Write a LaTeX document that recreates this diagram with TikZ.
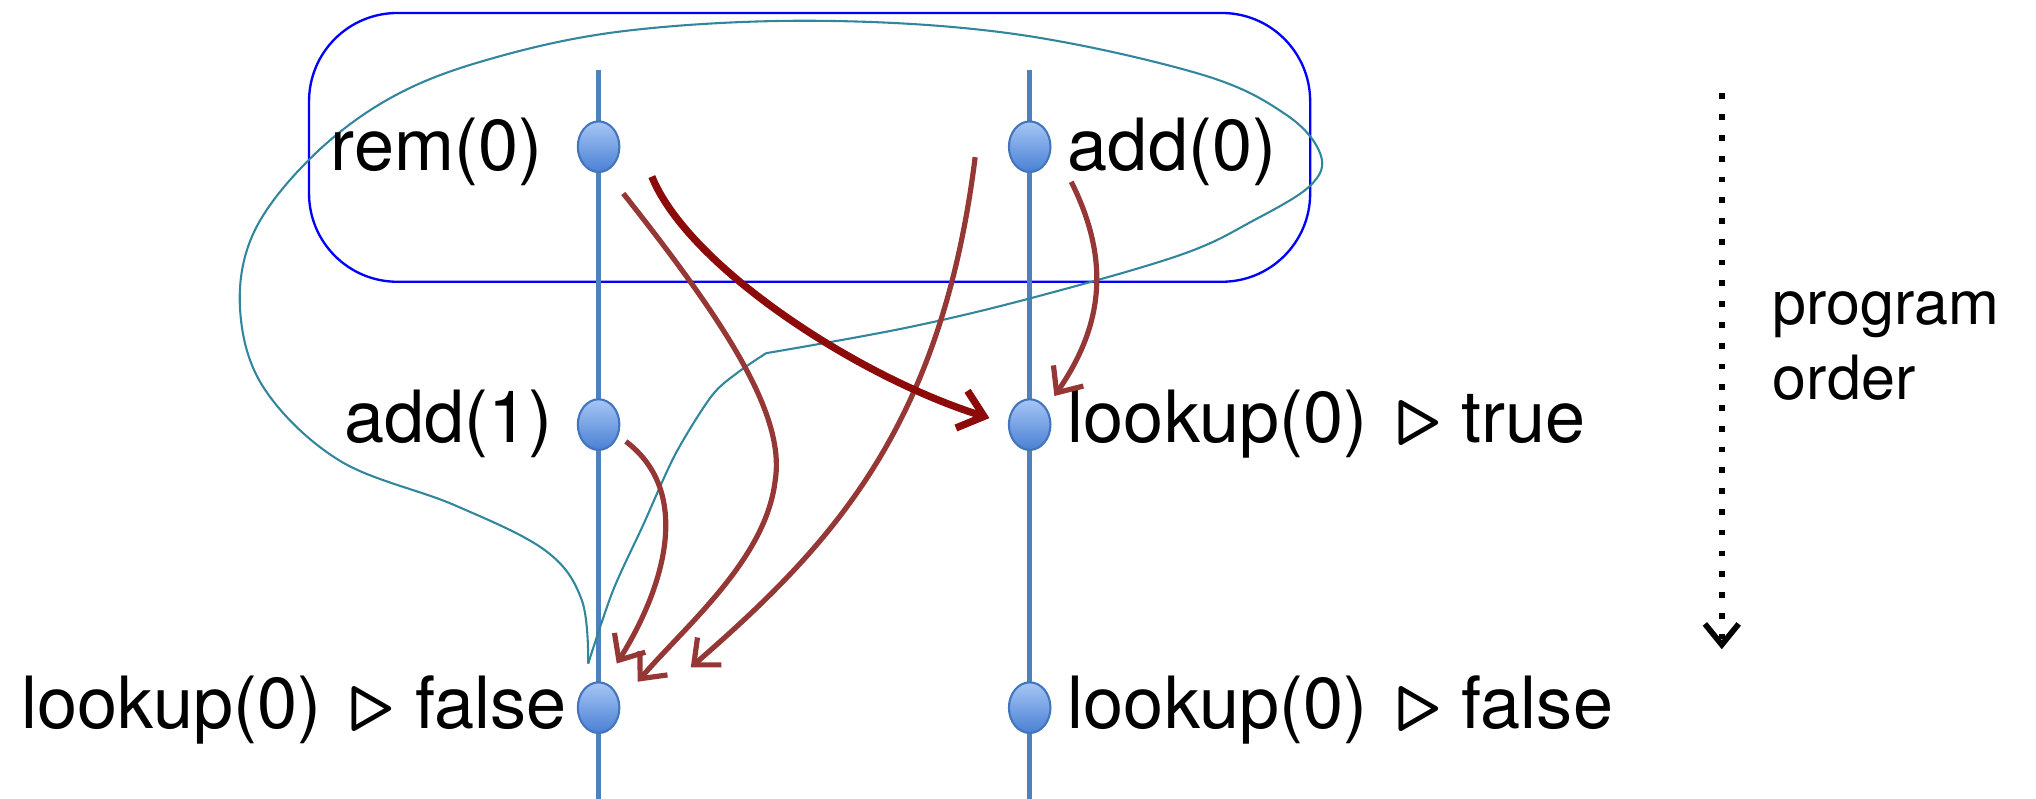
\RequirePackage{fix-cm}
\documentclass[tikz,border=0pt]{standalone}
\usepackage{fontspec}
\setmainfont{TeX Gyre Heros}
\usetikzlibrary{arrows.meta,shapes.geometric}
\definecolor{lineblue}{HTML}{4F81BD}
\definecolor{dotlight}{HTML}{A6C6F5}
\definecolor{dotdark}{HTML}{4A80D4}
\definecolor{dotedge}{HTML}{4374BC}
\definecolor{boxblue}{HTML}{0000FF}
\definecolor{tealc}{HTML}{31859C}
\definecolor{redc}{HTML}{953735}
\definecolor{dredc}{HTML}{8C0A0A}
\newcommand{\trisep}{\hspace{11pt}\scalebox{1.08}{\boldmath$\triangleright$}\hspace{8pt}}
\begin{document}
\begin{tikzpicture}[x=0.5pt,y=-0.5pt,
  tline/.style={draw=lineblue,line width=1.8pt},
  dot/.style={ellipse,draw=dotedge,line width=0.8pt,top color=dotlight,bottom color=dotdark,
              minimum width=16pt,minimum height=19.5pt,inner sep=0pt},
  lbl/.style={inner sep=0pt,font=\fontsize{27.75}{33}\selectfont},
  smalllbl/.style={inner sep=0pt,font=\fontsize{23.5}{29}\selectfont},
  groupbox/.style={draw=boxblue,line width=0.9pt,rounded corners=34pt,inner sep=0pt},
  tealline/.style={draw=tealc,line width=0.8pt},
  redarr/.style={draw=redc,line width=2pt,-{Straight Barb[length=8pt,width=14pt]}},
  dredarr/.style={draw=dredc,line width=2.8pt,-{Straight Barb[length=9pt,width=15pt]}},
  ordarr/.style={draw=black,line width=2.2pt,dash pattern=on 2.2pt off 5.8pt,
                 -{Straight Barb[length=8pt,width=13pt]}}
]
\useasboundingbox (0,0) rectangle (1568,615);

% group box
\node[groupbox,minimum width=385.5pt,minimum height=103.5pt] (grp) at (623.5,113.5) {};

% time lines
\coordinate (Ltop) at (461,54);
\coordinate (Lbot) at (461,615);
\coordinate (Rtop) at (793,54);
\coordinate (Rbot) at (793,615);
\draw[tline] (Ltop) -- (Lbot);
\draw[tline] (Rtop) -- (Rbot);

% teal loop
\draw[tealline] plot[smooth,tension=0.6] coordinates {(453,511) (448,462) (420,424) (350,389)
  (262,355) (204,300) (185,240) (195,180) (238,123) (298,77) (372,47) (480,24) (627,16)
  (780,26) (924,57) (990,88) (1017,119) (1009,143) (965,170) (910,196) (800,228) (700,252) (590,272)};
\draw[tealline] plot[smooth,tension=0.5] coordinates {(590,272) (568,287) (548,305)
  (520,350) (495,405) (472,455) (453,511)};

% events
\node[dot] (r0) at (461,113) {};
\node[dot] (a0) at (793,113) {};
\node[dot] (a1) at (461,327) {};
\node[dot] (lt) at (793,327) {};
\node[dot] (lf) at (461,545) {};
\node[dot] (lf2) at (793,545) {};

% labels
\node[lbl,anchor=base east] (Lr0) at (418,131) {rem(0)};
\node[lbl,anchor=base west] (La0) at (822,131) {add(0)};
\node[lbl,anchor=base east] (La1) at (426,341) {add(1)};
\node[lbl,anchor=base west] (Llt) at (822,341) {lookup(0)\trisep true};
\node[lbl,anchor=base east] (Llf) at (437,561) {lookup(0)\trisep false};
\node[lbl,anchor=base west] (Llf2) at (822,561) {lookup(0)\trisep false};

% arrow end points
\coordinate (a1s) at (502,136); \coordinate (a1e) at (762,322);
\coordinate (a2s) at (480,149); \coordinate (a2e) at (491,525);
\coordinate (a3s) at (751,121); \coordinate (a3e) at (532,514);
\coordinate (a4s) at (825,140); \coordinate (a4e) at (812,305);
\coordinate (a5s) at (482,340); \coordinate (a5e) at (475,511);

\draw[redarr] (a2s) .. controls (560,250) and (605,320) .. (597,370)
              .. controls (590,430) and (530,480) .. (a2e);
\draw[redarr] (a3s) .. controls (725,330) and (640,420) .. (a3e);
\draw[redarr] (a4s) .. controls (855,200) and (850,250) .. (a4e);
\draw[redarr] (a5s) .. controls (535,380) and (510,455) .. (a5e);
\draw[dredarr] (a1s) .. controls (530,205) and (660,290) .. (a1e);

% program order
\coordinate (po1) at (1326,72);
\coordinate (po2) at (1326,500);
\draw[ordarr] (po1) -- (po2);
\node[smalllbl,anchor=base west] (pot1) at (1365,250) {program};
\node[smalllbl,anchor=base west] (pot2) at (1365,308) {order};
\end{tikzpicture}
\end{document}
